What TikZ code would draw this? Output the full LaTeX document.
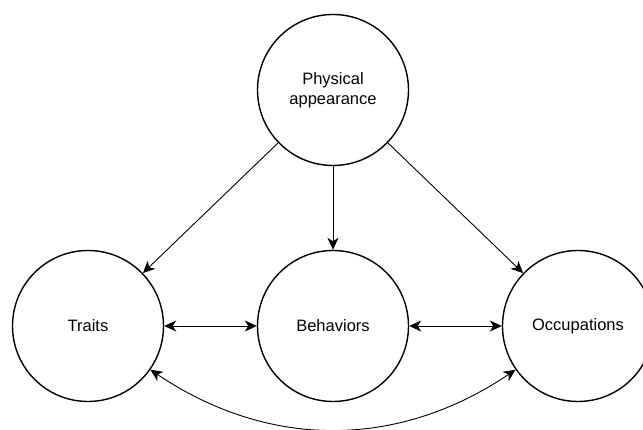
\documentclass[tikz,border=0pt]{standalone}
\usepackage{fontspec}
\setmainfont{Liberation Sans}
\usetikzlibrary{arrows.meta}

\begin{document}
\begin{tikzpicture}[>={Stealth[length=12pt, width=11pt, inset=3.5pt]}, x=1pt, y=1pt, node distance=245pt]
			\tikzstyle{bubble} = [draw, line width=1.4pt, circle, minimum size=151pt, inner sep=0pt, align=center, font=\fontsize{16.5}{20}\selectfont]
			\tikzstyle{link} = [line width=0.9pt]
			\useasboundingbox (0,0) rectangle (643,430);
			\begin{scope}
			\path[<->, link]

			node[bubble] (traits) at (88,104) {Traits}
			node[bubble, right of=traits] (behav) {Behaviors}
			node[bubble, right of=behav] (occup) {Occupations}
			node[bubble, above of=behav, node distance=236pt] (phys) {Physical\\appearance}

			(traits) edge (behav)
			(behav) edge (occup)
			(traits.-35) edge[out=-34, in=-146] (occup.-145)
			;
			\path[->, link]
			(phys) edge (traits)
			(phys) edge (behav)
			(phys) edge (occup)
			;
			\end{scope}

			\end{tikzpicture}
\end{document}
